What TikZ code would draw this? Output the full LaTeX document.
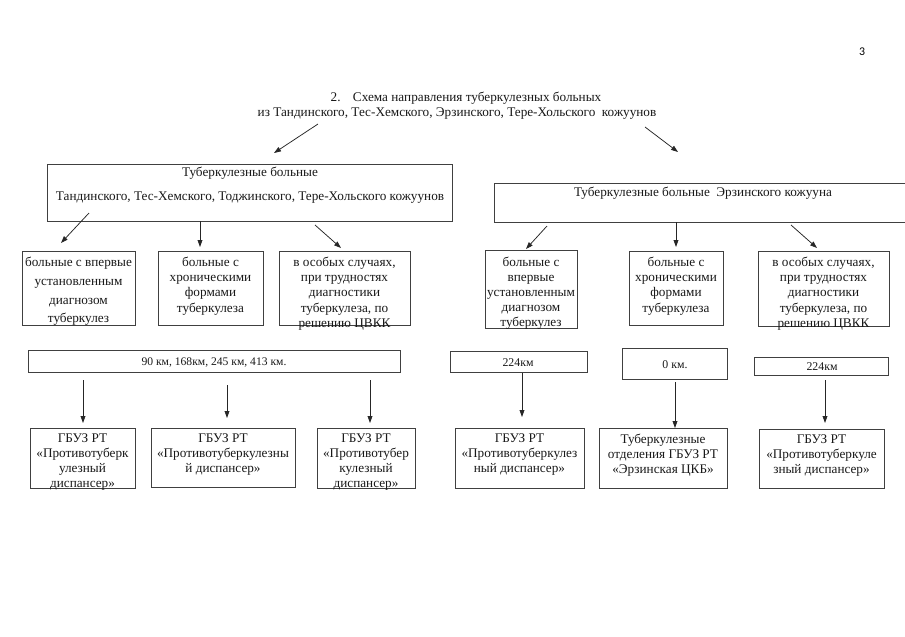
\documentclass[tikz,border=0pt]{standalone}
\usepackage{fontspec}
\setmainfont{Liberation Serif}
\newfontfamily\pgnumfont{Carlito}
\usetikzlibrary{arrows.meta}
\newcommand\mybox[5]{\node[box, minimum width={(#4-#2)*0.93pt}, minimum height={(#5-#3)*0.93pt}] (#1) at ({(#2+#4)/2},{(#3+#5)/2}) {};}
\begin{document}
\begin{tikzpicture}[x=0.93pt,y=-0.93pt,
  box/.style={draw=black!75, line width=0.6pt, inner sep=0pt, outer sep=0pt},
  txt/.style={inner sep=0pt, align=center, text=black!90, font=\fontsize{12.3}{14.1}\selectfont},
  kmtxt/.style={inner sep=0pt, text=black!90, font=\fontsize{11}{13}\selectfont},
  arr/.style={draw=black!85, line width=0.7pt, -{Triangle[length=6.5pt,width=4.5pt]}}]
\useasboundingbox[fill=white] (0,0) rectangle (905,636);

% page number
\node[inner sep=0pt, font=\pgnumfont\fontsize{11}{13}\selectfont] (pg) at (862,52) {3};

% title
\node[txt] (title1) at (466,98) {2.\hspace{0.6em} Схема направления туберкулезных больных};
\node[txt] (title2) at (457,113.5) {из Тандинского, Тес-Хемского, Эрзинского, Тере-Хольского\ \ кожуунов};

% level 1 boxes
\mybox{A}{47}{164}{452}{221}
\node[txt] (Atxt1) at (250,173.5) {Туберкулезные больные};
\node[txt] (Atxt2) at (250,197.5) {Тандинского, Тес-Хемского, Тоджинского, Тере-Хольского кожуунов};
\mybox{B}{494}{183}{912}{222}
\node[txt] (Btxt) at (703,193.5) {Туберкулезные больные\ \ Эрзинского кожууна};

\coordinate (t1s) at (318,124); \coordinate (t1e) at (274,153);
\coordinate (t2s) at (645,127); \coordinate (t2e) at (678,152);
\draw[arr] (t1s) -- (t1e);
\draw[arr] (t2s) -- (t2e);

% level 2 boxes
\mybox{b1}{22}{251}{135}{325}
\mybox{b2}{158}{251}{263}{325}
\mybox{b3}{279}{251}{410}{325}
\mybox{b4}{485}{250}{577}{328}
\mybox{b5}{629}{251}{723}{325}
\mybox{b6}{758}{251}{889}{326}

\node[txt, anchor=north, font=\fontsize{12.3}{17.4}\selectfont] (b1t) at ([yshift=-5.5pt]b1.north) {больные с впервые\\установленным\\диагнозом\\туберкулез};
\node[txt, anchor=north] (b2t) at ([yshift=-5.5pt]b2.north) {больные с\\хроническими\\формами\\туберкулеза};
\node[txt, anchor=north] (b3t) at ([yshift=-5.5pt]b3.north) {в особых случаях,\\при трудностях\\диагностики\\туберкулеза, по\\решению ЦВКК};
\node[txt, anchor=north] (b4t) at ([yshift=-6pt]b4.north) {больные с\\впервые\\установленным\\диагнозом\\туберкулез};
\node[txt, anchor=north] (b5t) at ([yshift=-5.5pt]b5.north) {больные с\\хроническими\\формами\\туберкулеза};
\node[txt, anchor=north] (b6t) at ([yshift=-5.5pt]b6.north) {в особых случаях,\\при трудностях\\диагностики\\туберкулеза, по\\решению ЦВКК};

\coordinate (a1s) at (89,213); \coordinate (a1e) at (61,243);
\coordinate (a2s) at (200,221); \coordinate (a2e) at (200,247);
\coordinate (a3s) at (315,225); \coordinate (a3e) at (341,248);
\coordinate (a4s) at (547,226); \coordinate (a4e) at (526,249);
\coordinate (a5s) at (676,222); \coordinate (a5e) at (676,247);
\coordinate (a6s) at (791,225); \coordinate (a6e) at (817,248);
\foreach \i in {1,...,6} {\draw[arr] (a\i s) -- (a\i e);}

% level 3: distances
\mybox{k1}{28}{350}{400}{372}
\node[kmtxt, font=\fontsize{10.8}{12}\selectfont] (k1t) at (214,362.5) {90 км, 168км, 245 км, 413 км.};
\mybox{k2}{450}{351}{587}{372}
\node[kmtxt] (k2t) at (518,362.5) {224км};
\mybox{k3}{622}{348}{727}{379}
\node[kmtxt] (k3t) at (675,365) {0 км.};
\mybox{k4}{754}{357}{888}{375}
\node[kmtxt] (k4t) at (822,366.5) {224км};

\coordinate (d1s) at (83,380); \coordinate (d1e) at (83,423);
\coordinate (d2s) at (227,385); \coordinate (d2e) at (227,418);
\coordinate (d3s) at (370,380); \coordinate (d3e) at (370,423);
\coordinate (d4s) at (522,373); \coordinate (d4e) at (522,417);
\coordinate (d5s) at (675,382); \coordinate (d5e) at (675,428);
\coordinate (d6s) at (825,380); \coordinate (d6e) at (825,423);
\foreach \i in {1,...,6} {\draw[arr] (d\i s) -- (d\i e);}

% level 4: destinations
\mybox{c1}{30}{428}{135}{488}
\mybox{c2}{151}{428}{295}{487}
\mybox{c3}{317}{428}{415}{488}
\mybox{c4}{455}{428}{584}{488}
\mybox{c5}{599}{428}{727}{488}
\mybox{c6}{759}{429}{884}{488}

\node[txt, anchor=north] (c1t) at ([yshift=-5pt]c1.north) {ГБУЗ РТ\\«Противотуберк\\улезный\\диспансер»};
\node[txt, anchor=north] (c2t) at ([yshift=-5pt]c2.north) {ГБУЗ РТ\\«Противотуберкулезны\\й диспансер»};
\node[txt, anchor=north] (c3t) at ([yshift=-5pt]c3.north) {ГБУЗ РТ\\«Противотубер\\кулезный\\диспансер»};
\node[txt, anchor=north] (c4t) at ([yshift=-5pt]c4.north) {ГБУЗ РТ\\«Противотуберкулез\\ный диспансер»};
\node[txt, anchor=north] (c5t) at ([yshift=-5pt]c5.north) {Туберкулезные\\отделения ГБУЗ РТ\\«Эрзинская ЦКБ»};
\node[txt, anchor=north] (c6t) at ([yshift=-5pt]c6.north) {ГБУЗ РТ\\«Противотуберкуле\\зный диспансер»};
\end{tikzpicture}
\end{document}
